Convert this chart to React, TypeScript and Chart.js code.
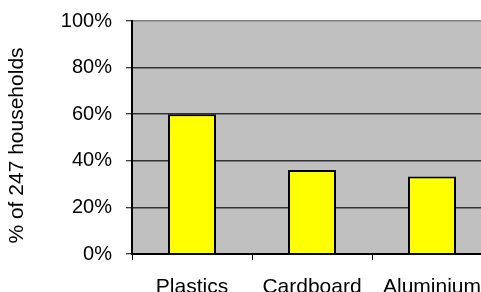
import React, { useEffect, useRef } from "react";
import { Chart, registerables } from "chart.js";

Chart.register(...registerables);

const categories = ["Plastics", "Cardboard", "Aluminium"];
const shares = [60, 36, 33.3];
const yTicks = [0, 20, 40, 60, 80, 100];
const yTitle = "% of 247 households";

const FONT = "'Liberation Sans', Arial, Helvetica, sans-serif";

const plotBg = {
  id: "plotBg",
  beforeDraw(chart: any) {
    const { ctx, chartArea } = chart;
    ctx.save();
    ctx.fillStyle = "#c0c0c0";
    ctx.fillRect(chartArea.left, chartArea.top, chartArea.right - chartArea.left, chartArea.bottom - chartArea.top);
    ctx.restore();
  },
};

const sideTitle = {
  id: "sideTitle",
  afterDraw(chart: any) {
    const { ctx, chartArea } = chart;
    ctx.save();
    ctx.translate(17, (chartArea.top + chartArea.bottom) / 2 + 8);
    ctx.rotate(-Math.PI / 2);
    ctx.font = `21px ${FONT}`;
    ctx.fillStyle = "#000";
    ctx.textAlign = "center";
    ctx.textBaseline = "middle";
    ctx.fillText(yTitle, 0, 0);
    ctx.restore();
  },
};

export default function App() {
  const ref = useRef<HTMLCanvasElement>(null);
  useEffect(() => {
    if (!ref.current) return;
    const chart = new Chart(ref.current, {
      type: "bar",
      data: {
        labels: categories,
        datasets: [
          {
            data: shares,
            backgroundColor: "#ffff00",
            borderColor: "#000000",
            borderWidth: 2,
            categoryPercentage: 1,
            barPercentage: 0.4,
          },
        ],
      },
      options: {
        responsive: false,
        animation: false,
        layout: { padding: { top: 21, right: 1, left: 0, bottom: 0 } },
        plugins: { legend: { display: false }, tooltip: { enabled: false } },
        scales: {
          x: {
            afterFit(scale: any) {
              scale.height = 38;
              scale.paddingLeft = 0;
              scale.paddingRight = 0;
            },
            grid: {
              offset: true,
              drawOnChartArea: false,
              drawTicks: true,
              tickLength: 6,
              tickColor: "#000",
              tickWidth: 1,
            },
            border: { color: "#000", width: 2 },
            ticks: { color: "#000", font: { family: FONT, size: 21 }, padding: 15, maxRotation: 0 },
          },
          y: {
            min: 0,
            max: 100,
            afterFit(scale: any) {
              scale.width = 132;
              scale.paddingTop = 0;
              scale.paddingBottom = 0;
            },
            afterBuildTicks(scale: any) {
              scale.ticks = yTicks.map((v) => ({ value: v }));
            },
            grid: {
              color: (c: any) => (c.tick && c.tick.value === 100 ? "#808080" : "#333333"),
              lineWidth: 1.5,
              tickLength: 6,
              tickColor: "#000",
              tickWidth: 1,
            },
            border: { color: "#000", width: 2 },
            ticks: {
              color: "#000",
              font: { family: FONT, size: 20 },
              padding: 14,
              callback: (v: any) => `${v}%`,
            },
          },
        },
      },
      plugins: [plotBg, sideTitle],
    });
    return () => chart.destroy();
  }, []);
  return (
    <div style={{ position: "fixed", left: 0, top: 0, width: 481, height: 292, overflow: "hidden", background: "#fff" }}>
      <canvas ref={ref} width={493} height={292} style={{ display: "block" }} />
    </div>
  );
}
